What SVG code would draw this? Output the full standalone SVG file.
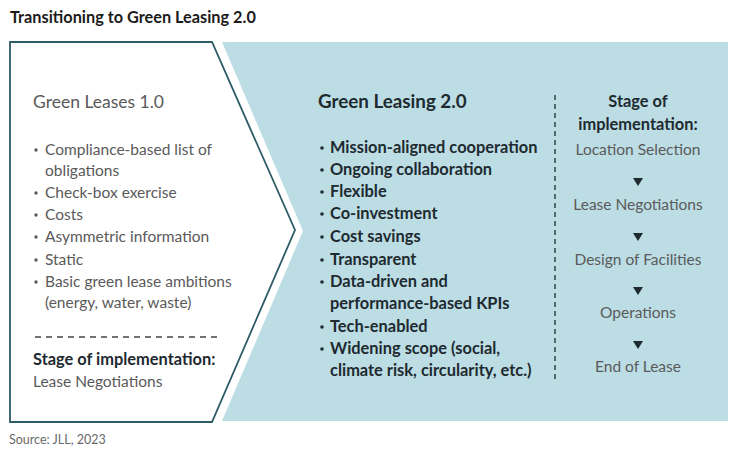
<svg xmlns="http://www.w3.org/2000/svg" width="744" height="457" viewBox="0 0 744 457">
<style>
text{font-family:Lato,"Noto Sans",sans-serif}
.t{font-weight:700;font-size:16.3px;fill:#1b1b1b}
.h{font-size:17.5px;fill:#5a5a5a}
.hb{font-size:18.8px;font-weight:700;fill:#1e2a30}
.l{font-size:15.5px;fill:#5a5a5a}
.b{font-size:16.4px;font-weight:700;fill:#1e2a30}
.s{font-size:12.5px;fill:#6a6a6a}
.tri{fill:#1e2a30}
.dl{fill:#5a5a5a}
.db{fill:#1e2a30}
</style>
<rect width="744" height="457" fill="#fff"/>
<text class="t" x="10" y="23">Transitioning to Green Leasing 2.0</text>
<g id="green-leasing-2">
<polygon points="222,42 728,42 728,421 222,421 303,231" fill="#bcdde4"/>
<text class="hb" x="318" y="108">Green Leasing 2.0</text>
<g class="db">
<circle cx="322" cy="148" r="1.8"/><circle cx="322" cy="170" r="1.8"/><circle cx="322" cy="192" r="1.8"/>
<circle cx="322" cy="214" r="1.8"/><circle cx="322" cy="237" r="1.8"/><circle cx="322" cy="260" r="1.8"/>
<circle cx="322" cy="282" r="1.8"/><circle cx="322" cy="327" r="1.8"/><circle cx="322" cy="349" r="1.8"/>
</g>
<g class="b">
<text x="330" y="153">Mission-aligned cooperation</text>
<text x="330" y="175">Ongoing collaboration</text>
<text x="330" y="197">Flexible</text>
<text x="330" y="219">Co-investment</text>
<text x="330" y="242">Cost savings</text>
<text x="330" y="265">Transparent</text>
<text x="330" y="287">Data-driven and</text>
<text x="330" y="309">performance-based KPIs</text>
<text x="330" y="332">Tech-enabled</text>
<text x="330" y="354">Widening scope (social,</text>
<text x="330" y="376">climate risk, circularity, etc.)</text>
</g>
<line x1="555" y1="95" x2="555" y2="379" stroke="#1e2a30" stroke-width="1.3" stroke-dasharray="5,4"/>
</g>
<g id="stages">
<text class="b" x="638" y="107" text-anchor="middle">Stage of</text>
<text class="b" x="638" y="130" text-anchor="middle">implementation:</text>
<g class="l" text-anchor="middle">
<text x="638" y="155">Location Selection</text>
<text x="638" y="210">Lease Negotiations</text>
<text x="638" y="265">Design of Facilities</text>
<text x="638" y="318">Operations</text>
<text x="638" y="372">End of Lease</text>
</g>
</g>
<g id="connectors">
<polygon class="tri" points="633,178 643,178 638,186"/>
<polygon class="tri" points="633,233 643,233 638,241"/>
<polygon class="tri" points="633,287 643,287 638,295"/>
<polygon class="tri" points="633,341 643,341 638,349"/>
</g>
<g id="green-leases-1">
<polygon points="10,42 212,42 295,230 212,422 10,422" fill="#fff" stroke="#2e5c66" stroke-width="1.8"/>
<text class="h" x="33" y="108">Green Leases 1.0</text>
<g class="dl">
<circle cx="36" cy="150" r="1.7"/><circle cx="36" cy="193" r="1.7"/><circle cx="36" cy="215" r="1.7"/>
<circle cx="36" cy="237" r="1.7"/><circle cx="36" cy="260" r="1.7"/><circle cx="36" cy="282" r="1.7"/>
</g>
<g class="l">
<text x="45" y="155">Compliance-based list of</text>
<text x="45" y="176">obligations</text>
<text x="45" y="198">Check-box exercise</text>
<text x="45" y="220">Costs</text>
<text x="45" y="242">Asymmetric information</text>
<text x="45" y="265">Static</text>
<text x="45" y="287">Basic green lease ambitions</text>
<text x="45" y="308">(energy, water, waste)</text>
</g>
<line x1="35" y1="337" x2="222" y2="337" stroke="#444" stroke-width="1.3" stroke-dasharray="6,5"/>
<text class="b" x="33" y="365">Stage of implementation:</text>
<text class="l" x="33" y="387">Lease Negotiations</text>
</g>
<text class="s" x="9" y="444">Source: JLL, 2023</text>
</svg>
